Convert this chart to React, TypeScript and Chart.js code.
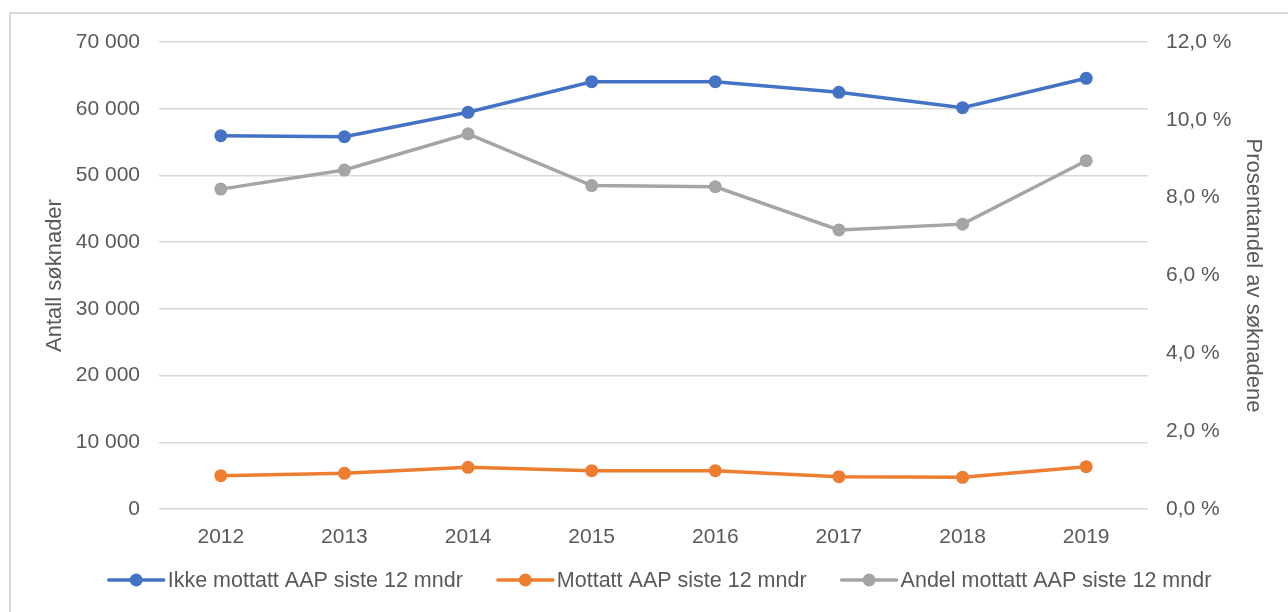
import React, { useEffect, useRef } from "react";
import { Chart, registerables } from "chart.js";

Chart.register(...registerables);

const years = ["2012", "2013", "2014", "2015", "2016", "2017", "2018", "2019"];
const ikkeMottatt = [55950, 55800, 59460, 64050, 64050, 62460, 60150, 64560];
const mottatt = [4990, 5350, 6250, 5740, 5740, 4840, 4750, 6340];
const andelMottatt = [8.22, 8.71, 9.64, 8.31, 8.28, 7.17, 7.32, 8.95];
const seriesNames = [
  "Ikke mottatt AAP siste 12 mndr",
  "Mottatt AAP siste 12 mndr",
  "Andel mottatt AAP siste 12 mndr",
];
const seriesColors = ["#4472C4", "#ED7D31", "#A5A5A5"];
const leftTitle = "Antall søknader";
const rightTitle = "Prosentandel av søknadene";

const FONT = "'Liberation Sans', Arial, sans-serif";
const TEXT = "#595959";

const fmtThousands = (v: number) =>
  String(Math.round(v)).replace(/\B(?=(\d{3})+(?!\d))/g, " ");
const fmtPct = (v: number) => v.toFixed(1).replace(".", ",") + " %";

const legendPlugin = {
  id: "customLegend",
  afterDraw(chart: any) {
    const ctx = chart.ctx as CanvasRenderingContext2D;
    ctx.save();
    ctx.font = `21.5px ${FONT}`;
    const lineLen = 55;
    const gapText = 4;
    const gapItem = 35;
    const widths = seriesNames.map((n) => ctx.measureText(n).width);
    const total =
      widths.reduce((a, w) => a + lineLen + gapText + w, 0) +
      gapItem * (seriesNames.length - 1);
    let x = 660 - total / 2;
    const y = 580;
    seriesNames.forEach((name, i) => {
      ctx.strokeStyle = seriesColors[i];
      ctx.lineWidth = 3.5;
      ctx.lineCap = "round";
      ctx.beginPath();
      ctx.moveTo(x, y);
      ctx.lineTo(x + lineLen, y);
      ctx.stroke();
      ctx.fillStyle = seriesColors[i];
      ctx.beginPath();
      ctx.arc(x + lineLen / 2, y, 6.5, 0, Math.PI * 2);
      ctx.fill();
      ctx.fillStyle = TEXT;
      ctx.textAlign = "left";
      ctx.textBaseline = "middle";
      ctx.fillText(name, x + lineLen + gapText, y + 1);
      x += lineLen + gapText + widths[i] + gapItem;
    });
    ctx.restore();
  },
};

export default function App() {
  const ref = useRef<HTMLCanvasElement | null>(null);

  useEffect(() => {
    if (!ref.current) return;
    const mk = (data: number[], i: number, axis: string) => ({
      label: seriesNames[i],
      data,
      yAxisID: axis,
      borderColor: seriesColors[i],
      backgroundColor: seriesColors[i],
      pointBackgroundColor: seriesColors[i],
      pointBorderColor: seriesColors[i],
      borderWidth: 3.5,
      pointRadius: 6.5,
      pointBorderWidth: 0,
      tension: 0,
      fill: false,
    });
    const chart = new Chart(ref.current, {
      type: "line",
      data: {
        labels: years,
        datasets: [
          mk(ikkeMottatt, 0, "y"),
          mk(mottatt, 1, "y"),
          mk(andelMottatt, 2, "y1"),
        ],
      },
      options: {
        animation: false,
        responsive: false,
        layout: { padding: { top: 42, left: 0, right: 0, bottom: 0 } },
        plugins: {
          legend: { display: false },
          tooltip: { enabled: false },
        },
        scales: {
          x: {
            offset: true,
            grid: { display: false },
            border: { display: false },
            ticks: {
              color: TEXT,
              font: { family: FONT, size: 21 },
              padding: 8,
              maxRotation: 0,
            },
            afterFit: (s: any) => {
              s.height = 103;
            },
          },
          y: {
            position: "left",
            min: 0,
            max: 70000,
            grid: { color: "#d9d9d9", lineWidth: 1.5, drawTicks: false },
            border: { display: false },
            ticks: {
              stepSize: 10000,
              color: TEXT,
              font: { family: FONT, size: 21 },
              padding: 19,
              callback: (v: any) => fmtThousands(Number(v)),
            },
            title: {
              display: true,
              text: leftTitle,
              color: TEXT,
              font: { family: FONT, size: 22 },
              padding: { top: 42, bottom: 0 },
            },
            afterFit: (s: any) => {
              s.width = 159;
            },
          },
          y1: {
            position: "right",
            min: 0,
            max: 12,
            grid: { display: false, drawTicks: false },
            border: { display: false },
            ticks: {
              stepSize: 2,
              color: TEXT,
              font: { family: FONT, size: 21 },
              padding: 18,
              callback: (v: any) => fmtPct(Number(v)),
            },
            title: {
              display: true,
              text: rightTitle,
              color: TEXT,
              font: { family: FONT, size: 22 },
              padding: { top: 22, bottom: 0 },
            },
            afterFit: (s: any) => {
              s.width = 140;
            },
          },
        },
      },
      plugins: [legendPlugin],
    } as any);
    return () => chart.destroy();
  }, []);

  return (
    <div
      style={{
        position: "fixed",
        left: 0,
        top: 0,
        width: 1288,
        height: 612,
        background: "#fff",
        overflow: "hidden",
      }}
    >
      <div
        style={{
          position: "absolute",
          left: 9,
          top: 12,
          width: 1300,
          height: 640,
          border: "2px solid #d9d9d9",
          boxSizing: "border-box",
        }}
      />
      <canvas
        ref={ref}
        width={1288}
        height={612}
        style={{ position: "absolute", left: 0, top: 0 }}
      />
    </div>
  );
}
